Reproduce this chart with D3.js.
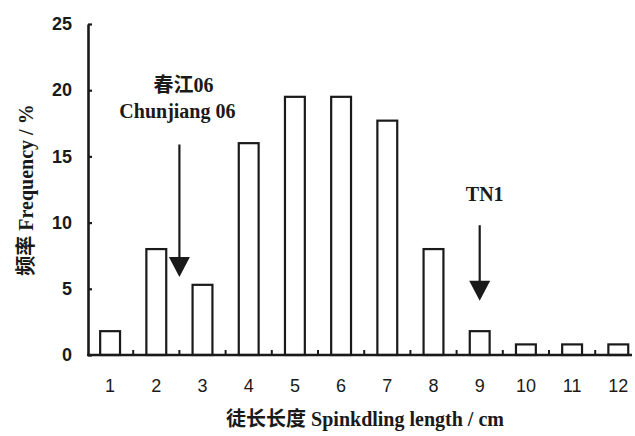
<!DOCTYPE html>
<html>
<head>
<meta charset="utf-8">
<script src="https://cdn.jsdelivr.net/npm/d3@7"></script>
<style>
  body { margin: 0; background: #fff; }
  svg { display: block; }
</style>
</head>
<body>
<div class="container"></div>
<script>
"use strict";

const width = 635;
const height = 436;

// data
const lengths = ["1", "2", "3", "4", "5", "6", "7", "8", "9", "10", "11", "12"];
const frequency = [1.8, 8.0, 5.3, 16.0, 19.5, 19.5, 17.7, 8.0, 1.8, 0.8, 0.8, 0.8];
const yTicks = [0, 5, 10, 15, 20, 25];
const arrowAt = [2.5, 9];
const arrowLabels = [["春江06", "Chunjiang 06"], ["TN1"]];
const arrowFrom = [15.9, 9.8];
const arrowTo = [5.9, 4.1];
const labelBase = [17.9, 11.6];

const serif = "'Liberation Serif', 'Times New Roman', 'Noto Sans CJK SC', serif";
const sans = "'Liberation Sans', Arial, sans-serif";

let svg = d3.select(".container")
  .append("svg")
  .attr("width", width)
  .attr("height", height);

const x = d3.scaleBand()
  .domain(lengths)
  .range([87, 641.4])
  .paddingInner(0.57)
  .paddingOuter(0.285);

// continuous version for arrow positions between bars
const xPos = d3.scaleLinear()
  .domain([1, 12])
  .range([x("1") + x.bandwidth() / 2, x("12") + x.bandwidth() / 2]);

const y = d3.scaleLinear()
  .domain([0, 25])
  .range([355, 24]);

// bars
svg.append("g")
  .attr("class", "bars")
  .selectAll("rect")
  .data(frequency)
  .enter()
  .append("rect")
  .attr("x", (d, i) => x(lengths[i]))
  .attr("y", d => y(d))
  .attr("width", x.bandwidth())
  .attr("height", d => y(0) - y(d))
  .attr("fill", "#fff")
  .attr("stroke", "#1a1a1a")
  .attr("stroke-width", 2.2);

// y axis
let yAxis = svg.append("g")
  .attr("transform", "translate(88,0)")
  .call(d3.axisLeft(y).tickValues(yTicks).tickSize(-4).tickSizeOuter(0).tickPadding(16));
yAxis.select(".domain").attr("stroke", "#1a1a1a").attr("stroke-width", 2.6);
yAxis.selectAll(".tick line").attr("stroke", "#1a1a1a").attr("stroke-width", 2.2);
yAxis.selectAll(".tick text")
  .attr("font-family", sans)
  .attr("font-weight", "bold")
  .attr("font-size", 18)
  .attr("fill", "#1a1a1a");

// x axis
let xAxis = svg.append("g")
  .attr("transform", "translate(0," + y(0) + ")")
  .call(d3.axisBottom(x).tickSize(0).tickPadding(24));
xAxis.select(".domain").remove();
xAxis.selectAll(".tick text")
  .attr("font-family", sans)
  .attr("font-size", 18)
  .attr("fill", "#1a1a1a");

svg.append("line")
  .attr("x1", 87)
  .attr("x2", 632)
  .attr("y1", y(0))
  .attr("y2", y(0))
  .attr("stroke", "#1a1a1a")
  .attr("stroke-width", 2.6);

// small ticks between bars
svg.append("g")
  .selectAll("line")
  .data(lengths.slice(0, -1))
  .enter()
  .append("line")
  .attr("x1", d => x(d) + x.step() / 2 + x.bandwidth() / 2)
  .attr("x2", d => x(d) + x.step() / 2 + x.bandwidth() / 2)
  .attr("y1", y(0))
  .attr("y2", y(0) - 5)
  .attr("stroke", "#1a1a1a")
  .attr("stroke-width", 2);

// axis titles
svg.append("text")
  .attr("x", 365)
  .attr("y", 426)
  .attr("text-anchor", "middle")
  .attr("font-family", serif)
  .attr("font-weight", "bold")
  .attr("font-size", 20)
  .attr("fill", "#1a1a1a")
  .text("徒长长度 Spinkdling length / cm");

svg.append("text")
  .attr("transform", "translate(33,190) rotate(-90)")
  .attr("text-anchor", "middle")
  .attr("font-family", serif)
  .attr("font-weight", "bold")
  .attr("font-size", 20)
  .attr("fill", "#1a1a1a")
  .text("频率 Frequency / %");

// arrows with labels
let ann = svg.append("g").selectAll("g")
  .data(arrowAt)
  .enter()
  .append("g");

ann.append("line")
  .attr("x1", d => xPos(d))
  .attr("x2", d => xPos(d))
  .attr("y1", (d, i) => y(arrowFrom[i]))
  .attr("y2", (d, i) => y(arrowTo[i]) - 18)
  .attr("stroke", "#1a1a1a")
  .attr("stroke-width", 2.2);

ann.append("path")
  .attr("d", (d, i) => {
    const cx = xPos(d);
    const tip = y(arrowTo[i]);
    return "M" + (cx - 10.5) + "," + (tip - 20) + "L" + (cx + 10.5) + "," + (tip - 20) + "L" + cx + "," + tip + "Z";
  })
  .attr("fill", "#1a1a1a");

ann.each(function (d, k) {
  const g = d3.select(this);
  const lines = arrowLabels[k];
  lines.forEach((t, i) => {
    const dx = lines.length > 1 ? (i === 0 ? 4 : -2) : 5;
    g.append("text")
      .attr("x", xPos(d) + dx)
      .attr("y", y(labelBase[k]) - (lines.length - 1 - i) * 26)
      .attr("text-anchor", "middle")
      .attr("font-family", serif)
      .attr("font-weight", "bold")
      .attr("font-size", 20)
      .attr("fill", "#1a1a1a")
      .text(t);
  });
});
</script>
</body>
</html>
